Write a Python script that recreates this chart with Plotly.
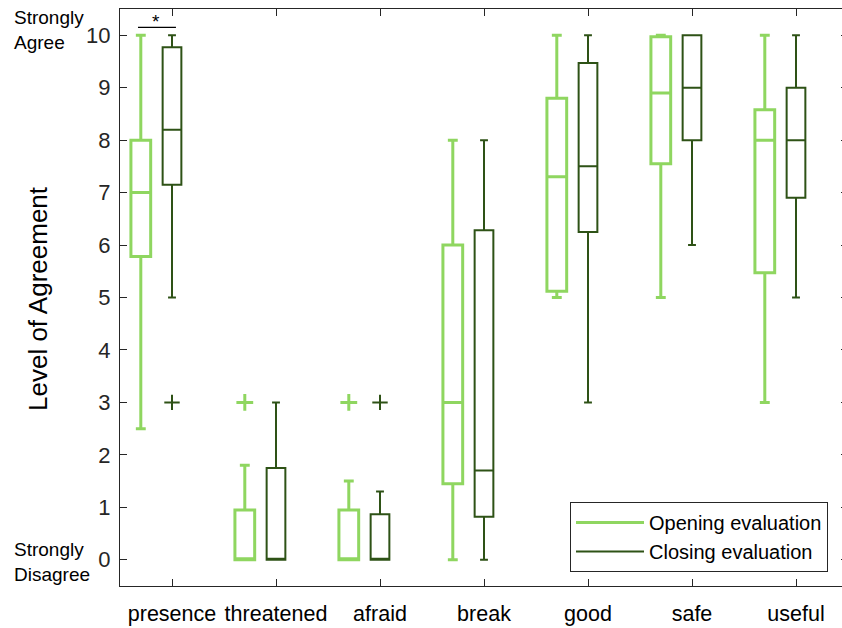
import plotly.graph_objects as go

categories = ["presence", "threatened", "afraid", "break", "good", "safe", "useful"]

# Opening evaluation box statistics
open_lower = [2.5, 0, 0, 0, 5.0, 5.0, 3.0]
open_q1 = [5.78, 0, 0, 1.45, 5.12, 7.55, 5.47]
open_median = [7.0, 0, 0, 3.0, 7.3, 8.9, 8.0]
open_q3 = [8.0, 0.95, 0.95, 6.0, 8.8, 9.97, 8.58]
open_upper = [10, 1.8, 1.5, 8.0, 10, 10, 10]
open_outlier_cat = ["threatened", "afraid"]
open_outlier_val = [3, 3]

# Closing evaluation box statistics
close_lower = [5.0, 0, 0, 0, 3.0, 6.0, 5.0]
close_q1 = [7.15, 0, 0, 0.82, 6.25, 8.0, 6.9]
close_median = [8.2, 0, 0, 1.7, 7.5, 9.0, 8.0]
close_q3 = [9.77, 1.75, 0.87, 6.28, 9.47, 10.0, 9.0]
close_upper = [10, 3.0, 1.3, 8.0, 10, 10, 10]
close_outlier_cat = ["presence", "afraid"]
close_outlier_val = [3, 3]

y_ticks = [0, 1, 2, 3, 4, 5, 6, 7, 8, 9, 10]

LIGHT = "#8fd660"
DARK = "#2e5216"
TXT = "#262626"
FONT = "Arial, Liberation Sans, sans-serif"

pos = {c: i + 1 for i, c in enumerate(categories)}
OFF = 0.3

fig = go.Figure()

fig.add_trace(go.Box(
    x=[pos[c] - OFF for c in categories],
    q1=open_q1, median=open_median, q3=open_q3,
    lowerfence=open_lower, upperfence=open_upper,
    width=0.19, whiskerwidth=0.5,
    line=dict(color=LIGHT, width=3), fillcolor="rgba(255,255,255,0)",
    boxpoints=False, showlegend=False, name="Opening evaluation",
))
fig.add_trace(go.Box(
    x=[pos[c] for c in categories],
    q1=close_q1, median=close_median, q3=close_q3,
    lowerfence=close_lower, upperfence=close_upper,
    width=0.18, whiskerwidth=0.42,
    line=dict(color=DARK, width=2), fillcolor="rgba(255,255,255,0)",
    boxpoints=False, showlegend=False, name="Closing evaluation",
))

fig.add_trace(go.Scatter(
    x=[pos[c] - OFF for c in open_outlier_cat], y=open_outlier_val,
    mode="markers",
    marker=dict(symbol="cross-thin", size=12, line=dict(color=LIGHT, width=3)),
    showlegend=False, hoverinfo="skip",
))
fig.add_trace(go.Scatter(
    x=[pos[c] for c in close_outlier_cat], y=close_outlier_val,
    mode="markers",
    marker=dict(symbol="cross-thin", size=11, line=dict(color=DARK, width=2)),
    showlegend=False, hoverinfo="skip",
))

# legend entries as lines
fig.add_trace(go.Scatter(x=[None], y=[None], mode="lines",
                         line=dict(color=LIGHT, width=3), name="Opening evaluation"))
fig.add_trace(go.Scatter(x=[None], y=[None], mode="lines",
                         line=dict(color=DARK, width=2), name="Closing evaluation"))

# significance bracket
fig.add_shape(type="line", x0=pos["presence"] - 0.327, x1=pos["presence"] + 0.038,
              y0=10.15, y1=10.15, line=dict(color="black", width=1.2))
fig.add_annotation(x=pos["presence"] - 0.15, y=10.15, text="*", showarrow=False,
                   yanchor="bottom", yshift=-7, font=dict(size=19, color="black", family=FONT))

L, R, T, B = 120, 0, 9, 42
W, H = 848, 628
pw = W - L - R
ph = H - T - B

def px_x(p):
    return (p - L) / pw

def px_y(p):
    return (H - B - p) / ph

fig.add_annotation(xref="paper", yref="paper", x=px_x(12), y=px_y(5), text="Strongly<br>Agree",
                   showarrow=False, xanchor="left", yanchor="top", align="left",
                   font=dict(size=19, color="black", family=FONT))
fig.add_annotation(xref="paper", yref="paper", x=px_x(12), y=px_y(537), text="Strongly<br>Disagree",
                   showarrow=False, xanchor="left", yanchor="top", align="left",
                   font=dict(size=19, color="black", family=FONT))
fig.add_annotation(xref="paper", yref="paper", x=px_x(38), y=px_y(299), text="Level of Agreement",
                   showarrow=False, textangle=-90, xanchor="center", yanchor="middle",
                   font=dict(size=26, color="black", family=FONT))

fig.update_layout(
    template="none",
    width=W, height=H,
    margin=dict(l=L, r=R, t=T, b=B, autoexpand=False),
    paper_bgcolor="white", plot_bgcolor="white",
    font=dict(family=FONT, color=TXT),
    boxmode="overlay",
    legend=dict(x=px_x(570), y=px_y(502), xanchor="left", yanchor="top",
                bgcolor="white", bordercolor=TXT, borderwidth=1,
                font=dict(size=20, color="black"), itemwidth=68,
                tracegroupgap=0),
    xaxis=dict(
        automargin=False,
        range=[0.5, 0.5 + pw / 104.0],
        tickmode="array", tickvals=[pos[c] for c in categories], ticktext=categories,
        ticks="inside", ticklen=7, tickcolor=TXT, tickwidth=1,
        showline=True, linecolor=TXT, linewidth=1, mirror="ticks",
        showgrid=False, zeroline=False,
        tickfont=dict(size=21.5, color="black"), ticklabelstandoff=8,
    ),
    yaxis=dict(
        automargin=False,
        range=[-0.5, 10.5],
        tickmode="array", tickvals=y_ticks,
        ticks="inside", ticklen=7, tickcolor=TXT, tickwidth=1,
        showline=True, linecolor=TXT, linewidth=1, mirror="ticks",
        showgrid=False, zeroline=False,
        tickfont=dict(size=22, color=TXT), ticklabelstandoff=4,
    ),
)

fig.write_html(
    "out.html",
    config={"displayModeBar": False},
    post_script="document.body.style.margin='0px';document.body.style.overflow='hidden';",
)
